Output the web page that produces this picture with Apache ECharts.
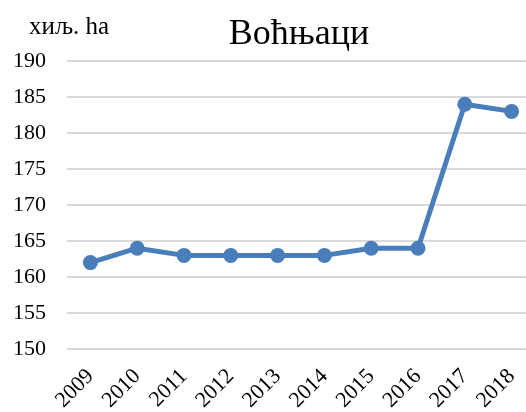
<!DOCTYPE html>
<html>
<head>
<meta charset="utf-8">
<script src="https://cdn.jsdelivr.net/npm/echarts@6/dist/echarts.min.js"></script>
<style>
  html, body { margin: 0; padding: 0; background: #ffffff; }
  #chart { width: 526px; height: 412px; }
</style>
</head>
<body>
<div id="chart"></div>
<script>
// Orchard area by year, thousand hectares
const years = ['2009', '2010', '2011', '2012', '2013', '2014', '2015', '2016', '2017', '2018'];
const orchards = [162, 164, 163, 163, 163, 163, 164, 164, 184, 183];
const yMin = 150, yMax = 190, yStep = 5;

const serif = '"Liberation Serif", "Times New Roman", serif';
const chart = echarts.init(document.getElementById('chart'));
chart.setOption({
  animation: false,
  backgroundColor: '#ffffff',
  title: {
    text: 'Воћњаци',
    left: 294, top: 12, textAlign: 'center',
    textStyle: { fontFamily: serif, fontSize: 36, fontWeight: 'normal', color: '#000' }
  },
  graphic: [{
    type: 'text', left: 29, top: 15,
    style: { text: 'хиљ. ha', font: '25px ' + serif, fill: '#000' }
  }],
  grid: { left: 67, top: 61, width: 468, height: 288, containLabel: false, outerBoundsMode: 'none' },
  xAxis: {
    type: 'category',
    data: years,
    boundaryGap: true,
    axisLine: { show: false },
    axisTick: { show: false },
    axisLabel: { rotate: 45, margin: 24, fontFamily: serif, fontSize: 22, color: '#000' }
  },
  yAxis: {
    type: 'value',
    min: yMin, max: yMax, interval: yStep,
    axisLine: { show: false },
    axisTick: { show: false },
    axisLabel: { margin: 21, fontFamily: serif, fontSize: 22, color: '#000' },
    splitLine: { lineStyle: { color: '#d9d9d9', width: 2 } }
  },
  series: [{
    type: 'line',
    data: orchards,
    symbol: 'circle',
    symbolSize: 15,
    lineStyle: { color: '#4a7ebb', width: 5 },
    itemStyle: { color: '#4a7ebb' }
  }]
});
</script>
</body>
</html>
